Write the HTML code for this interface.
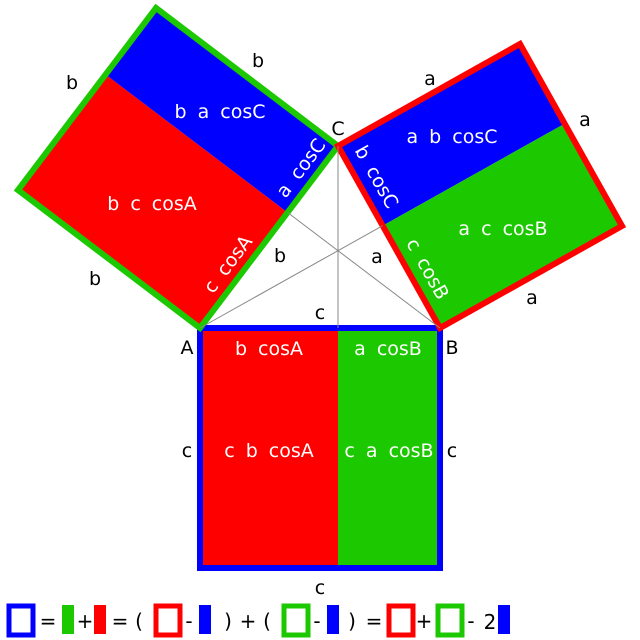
<!DOCTYPE html>
<html><head><meta charset="utf-8"><style>
html,body{margin:0;padding:0;background:#fff;}
svg{display:block;}
text{font-family:"DejaVu Sans","Liberation Sans",sans-serif;font-size:19px;word-spacing:5px;}
.w{fill:#fff;}
.k{fill:#000;}
.lg{font-size:20px;}
</style></head><body>
<svg width="640" height="640" viewBox="0 0 640 640">
<g>
<rect x="200" y="328" width="138" height="240" fill="#ff0000"/>
<rect x="338" y="328" width="102" height="240" fill="#1cc800"/>
<rect x="200" y="328" width="240" height="240" fill="none" stroke="#0000ff" stroke-width="6"/>
</g>
<g>
<polygon points="200,328 287.6,212.5 105.6,74.5 18,190" fill="#ff0000"/>
<polygon points="287.6,212.5 338,146 156,8 105.6,74.5" fill="#0000ff"/>
<polygon points="200,328 338,146 156,8 18,190" fill="none" stroke="#1cc800" stroke-width="6"/>
</g>
<g>
<polygon points="338,146 382.6,225.7 564.6,123.7 520,44" fill="#0000ff"/>
<polygon points="382.6,225.7 440,328 622,226 564.6,123.7" fill="#1cc800"/>
<polygon points="338,146 440,328 622,226 520,44" fill="none" stroke="#ff0000" stroke-width="6"/>
</g>
<g stroke="#888" stroke-width="1">
<line x1="338" y1="146" x2="338" y2="328"/>
<line x1="200" y1="328" x2="382.6" y2="225.7"/>
<line x1="440" y1="328" x2="287.6" y2="212.5"/>
</g>
<text class="w" x="220" y="118" text-anchor="middle">b a cosC</text>
<text class="w" x="152" y="210" text-anchor="middle">b c cosA</text>
<text class="w" x="452" y="143" text-anchor="middle">a b cosC</text>
<text class="w" x="503" y="235" text-anchor="middle">a c cosB</text>
<text class="w" x="269" y="355" text-anchor="middle">b cosA</text>
<text class="w" x="388" y="355" text-anchor="middle">a cosB</text>
<text class="w" x="269" y="457" text-anchor="middle">c b cosA</text>
<text class="w" x="389" y="457" text-anchor="middle">c a cosB</text>
<text class="w" transform="translate(306,172) rotate(-52.8)" text-anchor="middle">a cosC</text>
<text class="w" transform="translate(233,268) rotate(-52.8)" text-anchor="middle">c cosA</text>
<text class="w" transform="translate(371,180) rotate(60.7)" text-anchor="middle">b cosC</text>
<text class="w" transform="translate(422,272) rotate(60.7)" text-anchor="middle">c cosB</text>
<text class="k" x="258" y="67" text-anchor="middle">b</text>
<text class="k" x="72" y="89" text-anchor="middle">b</text>
<text class="k" x="95" y="285" text-anchor="middle">b</text>
<text class="k" x="280" y="262" text-anchor="middle">b</text>
<text class="k" x="430" y="85" text-anchor="middle">a</text>
<text class="k" x="585" y="126" text-anchor="middle">a</text>
<text class="k" x="532" y="304" text-anchor="middle">a</text>
<text class="k" x="377" y="263" text-anchor="middle">a</text>
<text class="k" x="320" y="319" text-anchor="middle">c</text>
<text class="k" x="187" y="457" text-anchor="middle">c</text>
<text class="k" x="452" y="457" text-anchor="middle">c</text>
<text class="k" x="320" y="594" text-anchor="middle">c</text>
<text class="k" x="187" y="354" text-anchor="middle">A</text>
<text class="k" x="452" y="354" text-anchor="middle">B</text>
<text class="k" x="338" y="135" text-anchor="middle">C</text>
<g>
<rect x="9" y="606" width="24" height="29" fill="none" stroke="#0000ff" stroke-width="5"/>
<text class="k lg" x="48" y="628" text-anchor="middle">=</text>
<rect x="62" y="605" width="12" height="29" fill="#1cc800"/>
<text class="k lg" x="85" y="628" text-anchor="middle">+</text>
<rect x="94" y="605" width="12" height="29" fill="#ff0000"/>
<text class="k lg" x="120" y="628" text-anchor="middle">=</text>
<text class="k lg" x="139" y="628" text-anchor="middle">(</text>
<rect x="156" y="606" width="24" height="29" fill="none" stroke="#ff0000" stroke-width="5"/>
<text class="k lg" x="189" y="628" text-anchor="middle">-</text>
<rect x="199" y="605" width="12" height="29" fill="#0000ff"/>
<text class="k lg" x="228" y="628" text-anchor="middle">)</text>
<text class="k lg" x="248" y="628" text-anchor="middle">+</text>
<text class="k lg" x="267" y="628" text-anchor="middle">(</text>
<rect x="284" y="606" width="24" height="29" fill="none" stroke="#1cc800" stroke-width="5"/>
<text class="k lg" x="317" y="628" text-anchor="middle">-</text>
<rect x="327" y="605" width="12" height="29" fill="#0000ff"/>
<text class="k lg" x="352" y="628" text-anchor="middle">)</text>
<text class="k lg" x="374" y="628" text-anchor="middle">=</text>
<rect x="389" y="606" width="24" height="29" fill="none" stroke="#ff0000" stroke-width="5"/>
<text class="k lg" x="424" y="628" text-anchor="middle">+</text>
<rect x="438" y="606" width="24" height="29" fill="none" stroke="#1cc800" stroke-width="5"/>
<text class="k lg" x="471" y="628" text-anchor="middle">-</text>
<text class="k lg" x="490" y="629" text-anchor="middle">2</text>
<rect x="498" y="605" width="12" height="29" fill="#0000ff"/>
</g>
</svg>
</body></html>
